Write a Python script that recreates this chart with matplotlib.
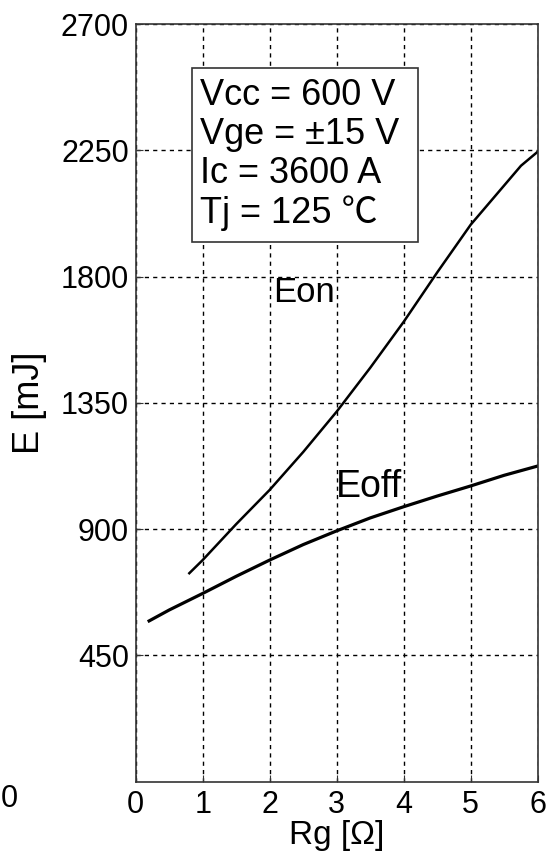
#Switching energy vs gate resistance
#Eon / Eoff curves at Vcc = 600 V, Ic = 3600 A, Tj = 125 C

from matplotlib import pyplot as plt
from matplotlib.patches import Rectangle

##values, Rg in [Ohm], E in [mJ]##
rg_on = [0.8, 1.0, 1.5, 2.0, 2.5, 3.0, 3.5, 4.0, 4.5, 5.0, 5.5, 5.75, 6.0]
e_on = [743, 790, 918, 1040, 1175, 1319, 1475, 1639, 1815, 1985, 2125, 2195, 2245]

rg_off = [0.2, 0.5, 1.0, 1.5, 2.0, 2.5, 3.0, 3.5, 4.0, 4.5, 5.0, 5.5, 6.0]
e_off = [573, 612, 671, 732, 790, 845, 894, 940, 980, 1018, 1054, 1092, 1125]

x_ticks = [0, 1, 2, 3, 4, 5, 6]
y_ticks = [450, 900, 1350, 1800, 2250, 2700]

conditions = ["Vcc = 600 V", "Vge = \u00b115 V", "Ic = 3600 A", "Tj = 125 \u2103"]


def plot_energy():
    '''draws both energy curves with the condition box and saves out.png'''

    plt.rcParams['font.family'] = ['Liberation Sans', 'Noto Sans CJK SC', 'DejaVu Sans']

    fig = plt.figure(figsize=(5.51, 8.55), dpi=100)
    ax = fig.add_axes([0.2463, 0.0857, 0.7296, 0.8862])

    #the two curves
    ax.plot(rg_on, e_on, color='black', linewidth=1.8)
    ax.plot(rg_off, e_off, color='black', linewidth=2.3)

    ax.set_xlim(0, 6)
    ax.set_ylim(0, 2700)
    ax.set_xticks(x_ticks)
    ax.set_yticks(y_ticks)
    ax.tick_params(direction='in', length=5, labelsize=22, color='#333333')
    ax.tick_params(axis='x', pad=6)
    ax.tick_params(axis='y', pad=5)

    #dashed grid like the datasheet
    ax.grid(True, color='black', linestyle=(0, (3, 3)), linewidth=1.0)
    for s in ax.spines.values():
        s.set_color('#333333')
        s.set_linewidth(1.2)

    ax.set_xlabel("Rg [\u03a9]", fontsize=24)
    ax.xaxis.set_label_coords(0.5, -0.050)
    ax.set_ylabel("E [mJ]", fontsize=26, labelpad=10)

    #stray zero of the y axis sits far left in the original
    fig.text(0.5 / 551, 1 - 799 / 855, "0", fontsize=22, ha='left', va='center')

    #curve names
    ax.text(2.05, 1711, "Eon", fontsize=25, va='baseline')
    ax.text(2.98, 1016, "Eoff", fontsize=27, va='baseline')

    #condition box, one text per line
    ax.add_patch(Rectangle((0.139, 0.7127), 0.5625, 0.2288, transform=ax.transAxes,
                           facecolor='white', edgecolor='#333333', linewidth=1.2, zorder=3))
    for i, line in enumerate(conditions):
        ax.text(0.16, 0.8937 - i * 0.0519, line, transform=ax.transAxes,
                fontsize=26, va='baseline', ha='left', zorder=4)

    fig.savefig("out.png", dpi=100)


plot_energy()
